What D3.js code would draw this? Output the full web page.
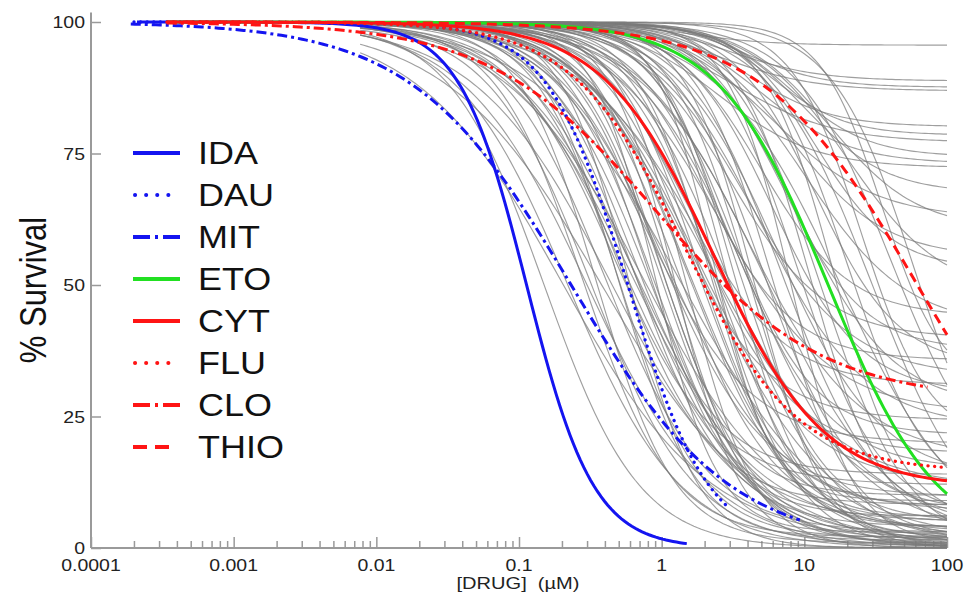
<!DOCTYPE html>
<html>
<head>
<meta charset="utf-8">
<script src="https://cdn.jsdelivr.net/npm/d3@7"></script>
<style>
  body { margin: 0; background: #fff; }
  svg { display: block; }
  text { font-family: "Liberation Sans", Arial, Helvetica, sans-serif; }
</style>
</head>
<body>
<svg id="chart" width="964" height="597"></svg>
<script>
// Four-parameter logistic fits: survival = bottom + (100 - bottom) / (1 + (dose / EC50)^hill)

// Reference drugs (coloured curves)
const drugNames  = ["IDA", "DAU", "MIT", "ETO", "CYT", "FLU", "CLO", "THIO"];
const drugEC50   = [0.113, 0.58, 0.232, 14.7, 2.31, 1.45, 0.92, 62];
const drugHill   = [1.85, 1.53, 0.78, 1.13, 1.12, 1.1, 0.75, 0.8];
const drugBottom = [0, 0, 0, 0, 11.5, 14.5, 28, 0];
const drugStart  = [0.00021, 0.0002, 0.00019, 0.00034, 0.00034, 0.00034, 0.00034, 0.00034];
const drugEnd    = [1.5, 2.8, 9.3, 100, 100, 100, 73, 100];
const drugColor  = ["#1414f0", "#1414f0", "#1414f0", "#22e022", "#ff1414", "#ff1414", "#ff1414", "#ff1414"];
const drugStyle  = ["solid", "dot", "dashdot", "solid", "solid", "dot", "dashdot", "dash"];

// Individual specimens (grey curves)
const grayEC50 = [
  1.5, 3, 4, 2.5, 4, 6, 3, 8, 5, 2.5, 10, 6, 15, 8, 12, 20, 5, 10, 3, 7,
  2, 12, 4, 1.5, 6, 9, 2.5, 1.2, 5, 3, 0.8, 1.8, 4, 0.6, 2, 1.0, 0.5,
  40, 25, 30, 60, 35, 18,
  0.2, 0.15, 0.22, 0.28, 0.3, 0.35, 0.4, 0.45, 0.5, 0.55, 0.6, 0.65, 0.7, 0.8, 0.85,
  0.9, 1.0, 1.1, 1.2, 1.3, 1.5, 1.6, 1.8, 2.0, 2.2, 2.5, 2.8, 3.0, 3.5, 4.0,
  4.5, 5.0, 6.0, 7.0, 8.0, 9.0, 11, 13, 16, 20, 0.38, 0.75, 1.4, 2.6, 5.5,
  1.7, 3.2, 0.95, 6.5, 2.3, 0.45,
  0.32, 0.5, 0.7, 1.05, 1.25, 1.9, 2.4, 3.3, 0.62, 0.9, 1.6, 4.2
];
const grayHill = [
  1.5, 1.4, 1.6, 1.3, 1.5, 1.7, 1.2, 1.6, 1.4, 1.3, 1.5, 1.2, 1.4, 1.3, 1.6, 1.3, 1.4, 1.2, 1.3, 1.5,
  1.4, 1.5, 1.2, 1.3, 1.4, 1.3, 1.1, 1.3, 1.2, 1.5, 1.2, 1.3, 1.1, 1.4, 1.0, 1.2, 1.3,
  1.3, 1.8, 1.2, 1.5, 2.0, 1.0,
  0.85, 1.3, 1.1, 1.4, 1.0, 1.6, 1.2, 0.9, 1.5, 1.1, 1.8, 1.3, 1.0, 1.5, 1.2,
  2.0, 1.4, 1.1, 1.6, 1.3, 1.8, 1.2, 1.5, 1.0, 1.7, 1.3, 1.9, 1.2, 1.5, 1.1,
  1.8, 1.4, 1.6, 1.3, 2.0, 1.5, 1.7, 1.4, 1.8, 1.5, 0.8, 0.9, 0.85, 0.9, 1.0,
  1.1, 1.3, 1.6, 1.2, 2.2, 1.2,
  1.2, 1.6, 1.1, 1.4, 1.9, 1.3, 1.5, 1.7, 1.0, 1.3, 1.2, 1.6
];
const grayBottom = [
  95.6, 88.8, 87.6, 86.9, 80.1, 78.5, 77.1, 74.4, 73.1, 72.3, 67.5, 62.7, 60.6, 55.2, 53, 48.1, 44, 42, 39.9, 37.6,
  35.7, 34.5, 32.6, 31, 29.4, 26.9, 25.6, 24.3, 23, 21.5, 19.9, 18, 17, 14, 11.5, 9.75, 8.2,
  10, 20, 0, 5, 30, 0,
  1, 0, 0, 2, 0, 1, 3, 0, 2, 5, 0, 4, 1, 6, 0,
  3, 2, 7, 1, 5, 0, 3, 8, 2, 4, 0, 6, 1, 5, 3,
  0, 7, 2, 4, 1, 6, 3, 0, 5, 8, 0, 2, 0, 4, 1,
  12, 15, 10, 13, 9, 12,
  0.5, 1.5, 0, 2.5, 0.5, 1, 0, 2, 3.5, 0.5, 1.5, 0
];
const grayStart = 0.0077;
const grayEnd = 100;

// Axis ticks
const xTickValues = [0.0001, 0.001, 0.01, 0.1, 1, 10, 100];
const xTickLabels = ["0.0001", "0.001", "0.01", "0.1", "1", "10", "100"];
const yTickValues = [0, 25, 50, 75, 100];
const yTickLabels = ["0", "25", "50", "75", "100"];

const svg = d3.select("#chart");
const x = d3.scaleLog().domain([1e-4, 100]).range([91, 947]);
const y = d3.scaleLinear().domain([0, 100]).range([548, 22]);
const textStretch = 1.18;
const axisColor = "#9a9a9a";

function logistic(dose, ec50, hill, bottom) {
  return bottom + (100 - bottom) / (1 + Math.pow(dose / ec50, hill));
}
function sampleCurve(ec50, hill, bottom, from, to) {
  const n = 160, a = Math.log10(from), b = Math.log10(to);
  const pts = [];
  for (let i = 0; i <= n; i++) {
    const d = Math.pow(10, a + (b - a) * i / n);
    pts.push([d, logistic(d, ec50, hill, bottom)]);
  }
  return pts;
}
const line = d3.line().x(d => x(d[0])).y(d => y(d[1]));

// Axes: ticks point inward, minor ticks at 2..9 of each decade
const minorTicks = [];
for (let e = -4; e < 2; e++) for (let m = 2; m <= 9; m++) minorTicks.push(m * Math.pow(10, e));

const gx = svg.append("g").attr("transform", `translate(0,${y(0)})`);
gx.call(d3.axisBottom(x).tickValues(xTickValues).tickSize(-11).tickFormat(""));
gx.append("g").call(d3.axisBottom(x).tickValues(minorTicks).tickSize(-7).tickFormat(""));
gx.selectAll(".domain").remove();
gx.selectAll("line").attr("stroke", axisColor).attr("stroke-width", 1.5);

const gy = svg.append("g").attr("transform", `translate(${x(1e-4)},0)`);
gy.call(d3.axisLeft(y).tickValues(yTickValues).tickSize(-10).tickFormat(""));
gy.selectAll(".domain").remove();
gy.selectAll("line").attr("stroke", axisColor).attr("stroke-width", 1.5);

svg.append("line")
  .attr("x1", x(1e-4)).attr("x2", x(100))
  .attr("y1", y(0)).attr("y2", y(0))
  .attr("stroke", axisColor).attr("stroke-width", 2);
svg.append("line")
  .attr("x1", x(1e-4)).attr("x2", x(1e-4))
  .attr("y1", y(0)).attr("y2", y(101.8))
  .attr("stroke", axisColor).attr("stroke-width", 2);

// Tick labels
svg.append("g").selectAll("text").data(xTickValues).join("text")
  .attr("transform", d => `translate(${x(d)},571) scale(${textStretch},1)`)
  .attr("text-anchor", "middle")
  .attr("font-size", 16.5).attr("fill", "#222")
  .text((d, i) => xTickLabels[i]);
svg.append("g").selectAll("text").data(yTickValues).join("text")
  .attr("transform", d => `translate(85,${y(d) + 6}) scale(${textStretch},1)`)
  .attr("text-anchor", "end")
  .attr("font-size", 16.5).attr("fill", "#222")
  .text((d, i) => yTickLabels[i]);

// Axis titles
svg.append("text")
  .attr("transform", `translate(518,589) scale(${textStretch},1)`)
  .attr("text-anchor", "middle").attr("font-size", 17).attr("fill", "#222")
  .style("white-space", "pre")
  .text("[DRUG]\u00a0\u00a0(µM)");
svg.append("text")
  .attr("transform", `translate(46,290) scale(${textStretch},1) rotate(-90)`)
  .attr("text-anchor", "middle").attr("font-size", 31).attr("fill", "#111")
  .text("% Survival");

// Grey specimen curves
svg.append("g")
  .attr("fill", "none").attr("stroke", "#7a7a7a").attr("stroke-opacity", 0.72).attr("stroke-width", 1.15)
  .selectAll("path").data(grayEC50).join("path")
  .attr("d", (d, i) => line(sampleCurve(grayEC50[i], grayHill[i], grayBottom[i], grayStart, grayEnd)));

// Dash patterns for the drug curves and legend keys
const chartDash = { solid: null, dot: "0.1 6.5", dashdot: "10 4 3 4", dash: "10 6" };
const legendDash = { solid: null, dot: "0.1 11", dashdot: "17 5 3 5", dash: "14 8" };
const capFor = s => s === "dot" ? "round" : "butt";

svg.append("g").attr("fill", "none")
  .selectAll("path").data(drugNames).join("path")
  .attr("d", (d, i) => line(sampleCurve(drugEC50[i], drugHill[i], drugBottom[i], drugStart[i], drugEnd[i])))
  .attr("stroke", (d, i) => drugColor[i])
  .attr("stroke-width", (d, i) => drugStyle[i] === "dot" ? 3.3 : 3)
  .attr("stroke-linecap", (d, i) => capFor(drugStyle[i]))
  .attr("stroke-dasharray", (d, i) => chartDash[drugStyle[i]]);

// Legend
const legend = svg.append("g");
const rowY = i => 153 + i * 42;
legend.selectAll("line").data(drugNames).join("line")
  .attr("x1", (d, i) => drugStyle[i] === "dot" ? 135 : 133)
  .attr("x2", (d, i) => drugStyle[i] === "dot" || drugStyle[i] === "dash" ? 170 : 180)
  .attr("y1", (d, i) => rowY(i)).attr("y2", (d, i) => rowY(i))
  .attr("stroke", (d, i) => drugColor[i])
  .attr("stroke-width", 4)
  .attr("stroke-linecap", (d, i) => capFor(drugStyle[i]))
  .attr("stroke-dasharray", (d, i) => legendDash[drugStyle[i]]);
legend.selectAll("text").data(drugNames).join("text")
  .attr("transform", (d, i) => `translate(198,${rowY(i) + 11}) scale(${textStretch},1)`)
  .attr("font-size", 30.5).attr("fill", "#111")
  .text(d => d);
</script>
</body>
</html>
